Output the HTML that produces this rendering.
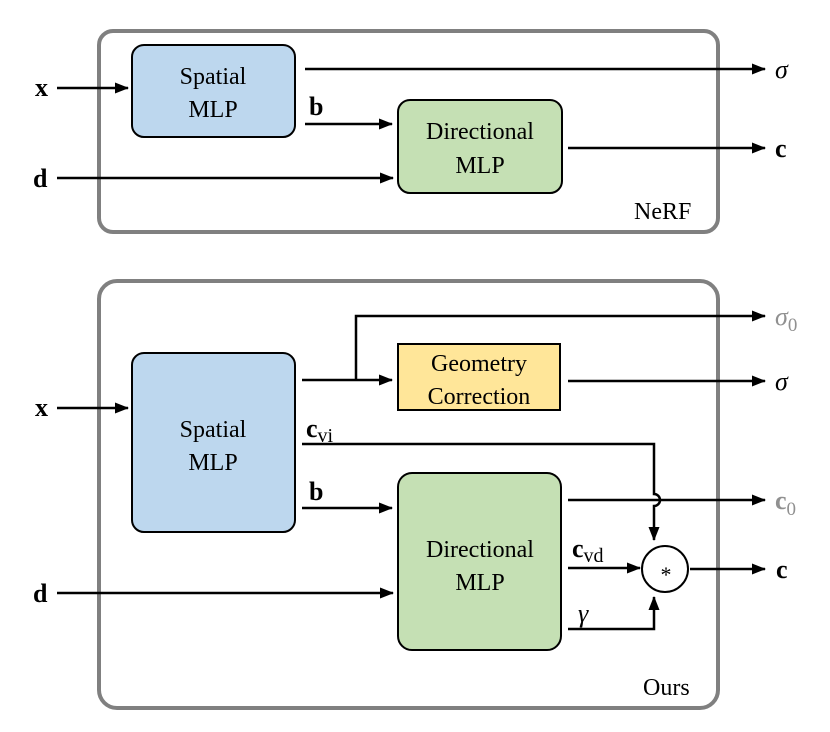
<!DOCTYPE html>
<html><head><style>body{margin:0;background:#fff}svg{display:block}</style></head><body>
<svg width="830" height="732" viewBox="0 0 830 732" xmlns="http://www.w3.org/2000/svg" font-family="Liberation Serif, serif">
<defs><marker id="a" markerWidth="14" markerHeight="12" refX="13" refY="6" orient="auto" markerUnits="userSpaceOnUse"><path d="M0,0.5 L14,6 L0,11.5 z" fill="#000"/></marker></defs>
<g fill="none" stroke="#808080" stroke-width="4">
<rect x="99" y="31" width="619" height="201" rx="14"/>
<rect x="99" y="281" width="619" height="427" rx="18"/>
</g>
<g stroke="#000" stroke-width="2">
<rect x="132" y="45" width="163" height="92" rx="12" fill="#bdd7ee"/>
<rect x="398" y="100" width="164" height="93" rx="12" fill="#c5e0b4"/>
<rect x="132" y="353" width="163" height="179" rx="12" fill="#bdd7ee"/>
<rect x="398" y="344" width="162" height="66" fill="#ffe699"/>
<rect x="398" y="473" width="163" height="177" rx="14" fill="#c5e0b4"/>
<circle cx="665" cy="569" r="23" fill="#fff"/>
</g>
<g stroke="#000" stroke-width="2.5" fill="none" marker-end="url(#a)">
<line x1="57" y1="88" x2="128" y2="88"/>
<line x1="57" y1="178" x2="393" y2="178"/>
<line x1="305" y1="69" x2="765" y2="69"/>
<line x1="305" y1="124" x2="392" y2="124"/>
<line x1="568" y1="148" x2="765" y2="148"/>
<line x1="57" y1="408" x2="128" y2="408"/>
<line x1="57" y1="593" x2="393" y2="593"/>
<line x1="302" y1="380" x2="392" y2="380"/>
<polyline points="356,380 356,316 765,316"/>
<line x1="568" y1="381" x2="765" y2="381"/>
<path d="M302,444 L654,444 L654,494 A6,6 0 0 1 654,506 L654,540"/>
<line x1="302" y1="508" x2="392" y2="508"/>
<line x1="568" y1="500" x2="765" y2="500"/>
<line x1="568" y1="568" x2="640" y2="568"/>
<polyline points="568,629 654,629 654,597"/>
<line x1="690" y1="569" x2="765" y2="569"/>
</g>
<g font-size="24" text-anchor="middle" fill="#000">
<text x="213" y="84">Spatial</text><text x="213" y="117">MLP</text>
<text x="480" y="139">Directional</text><text x="480" y="173">MLP</text>
<text x="213" y="437">Spatial</text><text x="213" y="470">MLP</text>
<text x="479" y="371">Geometry</text><text x="479" y="404">Correction</text>
<text x="480" y="557">Directional</text><text x="480" y="590">MLP</text>
<text x="666" y="582" font-size="22">*</text>
</g>
<g font-size="26" fill="#000">
<text x="35" y="96" font-weight="bold">x</text>
<text x="33" y="187" font-weight="bold">d</text>
<text x="309" y="115" font-weight="bold">b</text>
<text x="775" y="78" font-style="italic">σ</text>
<text x="775" y="157" font-weight="bold">c</text>
<text x="634" y="219" font-size="24">NeRF</text>
<text x="35" y="416" font-weight="bold">x</text>
<text x="33" y="602" font-weight="bold">d</text>
<text x="309" y="500" font-weight="bold">b</text>
<text x="306" y="437" font-weight="bold">c<tspan font-weight="normal" font-size="20" dy="5">vi</tspan></text>
<text x="572" y="557" font-weight="bold">c<tspan font-weight="normal" font-size="20" dy="5">vd</tspan></text>
<text x="578" y="622" font-style="italic">γ</text>
<text x="775" y="325" font-style="italic" fill="#909090">σ<tspan font-style="normal" font-size="19" dy="6">0</tspan></text>
<text x="775" y="390" font-style="italic">σ</text>
<text x="775" y="509" font-weight="bold" fill="#909090">c<tspan font-weight="normal" font-size="19" dy="6">0</tspan></text>
<text x="776" y="578" font-weight="bold">c</text>
<text x="643" y="695" font-size="24">Ours</text>
</g>
</svg>
</body></html>
